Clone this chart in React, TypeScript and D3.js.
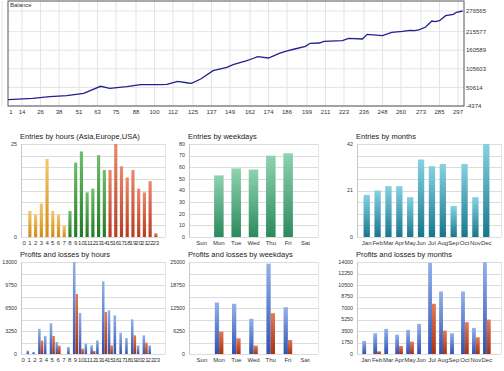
import { useEffect, useRef } from "react";
import * as d3 from "d3";

// balance curve (trade number -> balance)
const tradeNo = [5, 21, 32, 43, 54, 65, 71, 82, 91, 102, 108, 115, 122, 124, 130, 138, 147, 151, 160, 163, 167, 174, 181, 185, 191, 198, 201, 207, 210, 222, 226, 235, 238, 248, 254, 261, 266, 269, 272, 276, 280, 282, 285, 289, 294, 296, 300];
const balance = [14255, 18395, 23126, 26083, 33180, 53879, 47965, 52696, 58610, 58610, 59793, 68664, 63637, 62750, 75465, 100008, 110062, 117750, 129578, 134605, 141406, 137562, 151460, 157374, 164175, 172159, 181030, 181917, 186944, 188718, 195815, 193745, 207643, 203503, 213557, 216514, 219471, 218288, 221245, 229229, 246971, 244901, 247858, 262643, 266783, 272697, 276565];
const balanceTicksX = [1, 14, 26, 38, 51, 63, 75, 88, 100, 112, 125, 137, 149, 162, 174, 186, 199, 211, 223, 236, 248, 260, 273, 285, 297];
const balanceTicksY = [-4374, 50614, 105603, 160589, 215577, 276565];

const hours = ["0", "1", "2", "3", "4", "5", "6", "7", "8", "9", "10", "11", "12", "13", "14", "15", "16", "17", "18", "19", "20", "21", "22", "23"];
const hourSession = ["Asia", "Asia", "Asia", "Asia", "Asia", "Asia", "Asia", "Asia", "Europe", "Europe", "Europe", "Europe", "Europe", "Europe", "Europe", "USA", "USA", "USA", "USA", "USA", "USA", "USA", "USA", "USA"];
const hourEntries = [0, 7, 6, 9, 21, 7, 6, 3, 7, 20, 23, 12, 13, 22, 18, 18, 25, 19, 16, 18, 13, 12, 15, 1];
const hourProfits = [0, 470, 280, 3550, 2550, 4350, 1700, 0, 990, 13000, 5800, 1460, 1220, 1930, 10270, 6170, 5460, 3015, 2260, 4900, 1220, 2640, 1220, 0];
const hourLosses = [0, 0, 0, 1890, 0, 2550, 1180, 0, 0, 8480, 750, 0, 420, 0, 5940, 1220, 0, 0, 0, 2640, 0, 1600, 0, 0];

const weekdays = ["Sun", "Mon", "Tue", "Wed", "Thu", "Fri", "Sat"];
const weekdayEntries = [0, 53, 59, 58, 70, 72, 0];
const weekdayProfits = [0, 14000, 13640, 9550, 24550, 12730, 0];
const weekdayLosses = [0, 6090, 4270, 2270, 11090, 3820, 0];

const months = ["Jan", "Feb", "Mar", "Apr", "May", "Jun", "Jul", "Aug", "Sep", "Oct", "Nov", "Dec"];
const monthEntries = [19, 21, 23, 23, 18, 35, 32, 33, 14, 33, 18, 42];
const monthProfits = [1990, 3160, 3820, 2950, 3670, 4580, 13850, 9520, 3160, 9520, 3970, 14000];
const monthLosses = [0, 410, 0, 1220, 1880, 0, 7640, 3560, 0, 4840, 2550, 5240];

const ticksHours = [0, 25];
const ticksWeekdays = [0, 10, 20, 30, 40, 50, 60, 70, 80];
const ticksMonths = [0, 21, 42];
const ticksPlHours = [0, 3250, 6500, 9750, 13000];
const ticksPlWeekdays = [0, 6250, 12500, 18750, 25000];
const ticksPlMonths = [0, 1750, 3500, 5250, 7000, 8750, 10500, 12250, 14000];

const FONT = "'Liberation Sans', Arial, sans-serif";

const gradients: Record<string, [string, string]> = {
    Asia: ["#f3c76e", "#d58a12"],
    Europe: ["#6fc06a", "#217a25"],
    USA: ["#ea8a6c", "#b93a1e"],
    weekday: ["#8fd3b1", "#2b8a5c"],
    month: ["#86d2e2", "#17778e"],
    profit: ["#93b2ea", "#2f52b3"],
    loss: ["#e27a58", "#a9310f"],
};

const App = () => {
    const ref = useRef(null);

    useEffect(() => {
        const svg = d3.select(ref.current);
        svg.selectAll("*").remove();

        const defs = svg.append("defs");
        Object.entries(gradients).forEach(([k, [c0, c1]]) => {
            const g = defs.append("linearGradient").attr("id", "g-" + k)
                .attr("x1", 0).attr("y1", 0).attr("x2", 0).attr("y2", 1);
            g.append("stop").attr("offset", "0%").attr("stop-color", c0);
            g.append("stop").attr("offset", "100%").attr("stop-color", c1);
        });

        // ---- balance chart
        const bx0 = 8, bx1 = 464, by0 = 1, by1 = 106;
        const x = d3.scaleLinear().domain([4.9, 300.9]).range([bx0, bx1]);
        const y = d3.scaleLinear().domain([-4374, 276565]).range([by1, 11]);
        const top = svg.append("g");

        top.selectAll("line.gy").data(balanceTicksY).enter().append("line")
            .attr("x1", bx0).attr("x2", bx1)
            .attr("y1", d => y(d)).attr("y2", d => y(d))
            .attr("stroke", "#e4e4e4").attr("stroke-width", 1);
        top.selectAll("line.gx").data(balanceTicksX).enter().append("line")
            .attr("x1", d => x(d)).attr("x2", d => x(d))
            .attr("y1", by0).attr("y2", by1)
            .attr("stroke", "#e4e4e4").attr("stroke-width", 1);
        top.append("rect").attr("x", bx0).attr("y", by0)
            .attr("width", bx1 - bx0).attr("height", by1 - by0)
            .attr("fill", "none").attr("stroke", "#555").attr("stroke-width", 1);

        top.append("path")
            .datum(d3.zip(tradeNo, balance))
            .attr("fill", "none").attr("stroke", "#20208f").attr("stroke-width", 1.3)
            .attr("d", d3.line().x(d => x(d[0])).y(d => y(d[1])));

        top.selectAll("text.ty").data(balanceTicksY).enter().append("text")
            .attr("x", bx1 + 2).attr("y", d => y(d)).attr("dy", "0.35em")
            .attr("font-size", 6).attr("fill", "#333").attr("font-family", FONT)
            .text(d => String(d));
        top.selectAll("text.tx").data(balanceTicksX).enter().append("text")
            .attr("x", d => Math.max(x(d), 11)).attr("y", by1 + 8)
            .attr("text-anchor", "middle")
            .attr("font-size", 6).attr("fill", "#333").attr("font-family", FONT)
            .text(d => String(d));
        top.append("text").attr("x", bx0 + 2).attr("y", 7)
            .attr("font-size", 6).attr("fill", "#333").attr("font-family", FONT)
            .text("Balance");

        // ---- bar panels
        const panel = (opt: {
            left: number, right: number, top: number, bottom: number,
            bandFrom: number, bandTo: number, padding: number,
            title: string, cats: string[], ticks: number[],
            series: { values: number[], fill: (i: number) => string }[],
        }) => {
            const g = svg.append("g");
            const max = opt.ticks[opt.ticks.length - 1];
            const yy = d3.scaleLinear().domain([0, max]).range([opt.bottom, opt.top]);
            const xx = d3.scaleBand().domain(opt.cats).range([opt.bandFrom, opt.bandTo]).padding(opt.padding);
            const inner = d3.scaleBand().domain(opt.series.map((_, i) => String(i)))
                .range([0, xx.bandwidth()]).padding(0);

            g.selectAll("line.grid").data(d3.range(9).map(i => max * i / 8)).enter().append("line")
                .attr("x1", opt.left).attr("x2", opt.right)
                .attr("y1", d => Math.round(yy(d)) + 0.5).attr("y2", d => Math.round(yy(d)) + 0.5)
                .attr("stroke", "#dcdcdc");
            g.append("line").attr("x1", opt.left + 0.5).attr("x2", opt.left + 0.5)
                .attr("y1", opt.top).attr("y2", opt.bottom).attr("stroke", "#c8c8c8");
            g.append("line").attr("x1", opt.right + 0.5).attr("x2", opt.right + 0.5)
                .attr("y1", opt.top).attr("y2", opt.bottom).attr("stroke", "#e4e4e4");

            opt.series.forEach((s, si) => {
                g.selectAll("rect.s" + si).data(s.values).enter().append("rect")
                    .attr("x", (_, i) => (xx(opt.cats[i]) as number) + (inner(String(si)) as number))
                    .attr("width", inner.bandwidth())
                    .attr("y", d => yy(d))
                    .attr("height", d => opt.bottom - yy(d))
                    .attr("fill", (_, i) => s.fill(i));
            });

            g.selectAll("text.ty").data(opt.ticks).enter().append("text")
                .attr("x", opt.left - 4).attr("y", d => yy(d)).attr("dy", "0.35em")
                .attr("text-anchor", "end")
                .attr("font-size", 5.3).attr("fill", "#333").attr("font-family", FONT)
                .text(d => String(d));
            g.selectAll("text.tx").data(opt.cats).enter().append("text")
                .attr("x", d => (xx(d) as number) + xx.bandwidth() / 2).attr("y", opt.bottom + 8)
                .attr("text-anchor", "middle")
                .attr("font-size", 6).attr("fill", "#333").attr("font-family", FONT)
                .text(d => d);
            g.append("text").attr("x", opt.left - 1).attr("y", opt.top - 5)
                .attr("font-size", 7.5).attr("fill", "#222").attr("font-family", FONT)
                .text(opt.title);
        };

        const entryTop = 144, entryBottom = 237;
        const plTop = 262, plBottom = 354;

        panel({
            left: 21, right: 165, top: entryTop, bottom: entryBottom, bandFrom: 20, bandTo: 160, padding: 0.45,
            title: "Entries by hours (Asia,Europe,USA)", cats: hours, ticks: ticksHours,
            series: [{ values: hourEntries, fill: i => `url(#g-${hourSession[i]})` }],
        });
        panel({
            left: 189, right: 318, top: entryTop, bottom: entryBottom, bandFrom: 189, bandTo: 318, padding: 0.45,
            title: "Entries by weekdays", cats: weekdays, ticks: ticksWeekdays,
            series: [{ values: weekdayEntries, fill: () => "url(#g-weekday)" }],
        });
        panel({
            left: 357, right: 501, top: entryTop, bottom: entryBottom, bandFrom: 359, bandTo: 494, padding: 0.42,
            title: "Entries by months", cats: months, ticks: ticksMonths,
            series: [{ values: monthEntries, fill: () => "url(#g-month)" }],
        });

        panel({
            left: 21, right: 165, top: plTop, bottom: plBottom, bandFrom: 20, bandTo: 160, padding: 0.12,
            title: "Profits and losses by hours", cats: hours, ticks: ticksPlHours,
            series: [
                { values: hourProfits, fill: () => "url(#g-profit)" },
                { values: hourLosses, fill: () => "url(#g-loss)" },
            ],
        });
        panel({
            left: 189, right: 318, top: plTop, bottom: plBottom, bandFrom: 189, bandTo: 318, padding: 0.5,
            title: "Profits and losses by weekdays", cats: weekdays, ticks: ticksPlWeekdays,
            series: [
                { values: weekdayProfits, fill: () => "url(#g-profit)" },
                { values: weekdayLosses, fill: () => "url(#g-loss)" },
            ],
        });
        panel({
            left: 357, right: 501, top: plTop, bottom: plBottom, bandFrom: 359, bandTo: 494, padding: 0.3,
            title: "Profits and losses by months", cats: months, ticks: ticksPlMonths,
            series: [
                { values: monthProfits, fill: () => "url(#g-profit)" },
                { values: monthLosses, fill: () => "url(#g-loss)" },
            ],
        });
    }, []);

    return (
        <svg ref={ref} width={504} height={371}
             style={{ position: "fixed", left: 0, top: 0, background: "#fff" }} />
    );
};

export default App;
